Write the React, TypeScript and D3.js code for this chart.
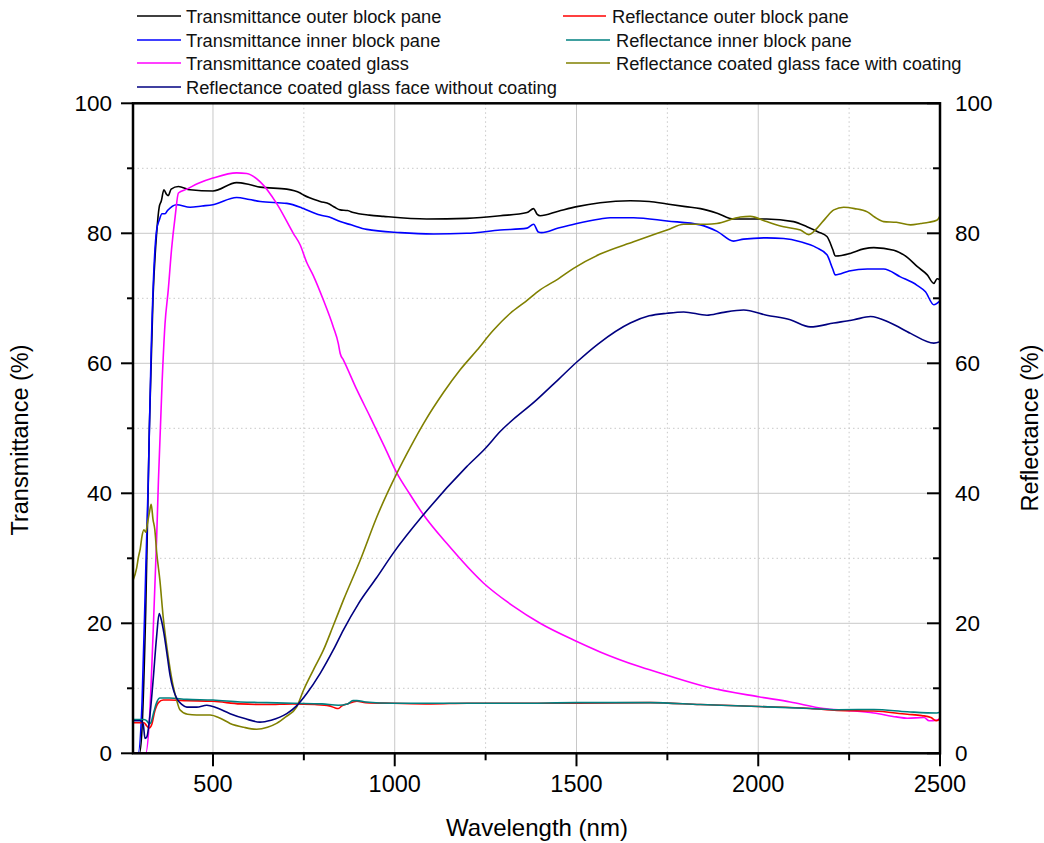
import React from "react";
import * as d3 from "d3";

type Pt = [number, number];

// wavelength (nm), value (%)
const T_OUTER: Pt[] = [
  [280, 0], [298, 0], [305, 4], [315, 22], [325, 50], [335, 70], [345, 80], [352, 84], [358, 85],
  [365, 86.7], [372, 86], [377, 85.8], [385, 86.8], [405, 87.2], [437, 86.7], [500, 86.5], [565, 87.8],
  [600, 87.5], [630, 87.1], [703, 86.8], [740, 86.2], [749, 85.9], [795, 84.9], [820, 84.5], [835, 84],
  [850, 83.6], [870, 83.5], [886, 83.2], [930, 82.8], [969, 82.6], [1088, 82.2], [1198, 82.3], [1290, 82.7],
  [1364, 83.2], [1382, 83.8], [1392, 82.9], [1400, 82.7], [1450, 83.4], [1501, 84.1], [1565, 84.7],
  [1648, 85.0], [1700, 84.9], [1749, 84.5], [1800, 84.1], [1841, 83.8], [1887, 83.1], [1932, 82.2],
  [2023, 82.2], [2097, 81.8], [2134, 81.0], [2165, 80.2], [2189, 79.5], [2205, 77.5], [2212, 76.5],
  [2253, 76.9], [2290, 77.6], [2318, 77.8], [2373, 77.4], [2410, 76.3], [2437, 74.9], [2465, 73.6],
  [2483, 72.3], [2492, 73], [2500, 72.8],
];

const T_INNER: Pt[] = [
  [280, 0], [294, 0], [305, 8], [315, 28], [322, 42], [330, 62], [338, 75], [345, 80.5], [352, 82],
  [360, 83], [368, 83], [375, 83.5], [400, 84.4], [437, 84], [470, 84.2], [500, 84.4], [565, 85.5],
  [600, 85.2], [630, 84.9], [703, 84.6], [740, 84], [749, 83.8], [795, 82.8], [820, 82.5], [850, 81.8],
  [880, 81.3], [923, 80.6], [1015, 80.1], [1107, 79.9], [1198, 80], [1290, 80.5], [1364, 80.8],
  [1382, 81.4], [1395, 80.2], [1404, 80.1], [1450, 80.8], [1501, 81.5], [1565, 82.2], [1593, 82.4],
  [1657, 82.4], [1749, 81.9], [1841, 81.3], [1887, 80.3], [1932, 78.8], [1960, 79.1], [2023, 79.3],
  [2070, 79.2], [2116, 78.7], [2160, 77.8], [2189, 76.7], [2205, 74.5], [2212, 73.6], [2250, 74.2],
  [2300, 74.5], [2345, 74.5], [2391, 73.3], [2437, 72], [2460, 71], [2483, 69], [2500, 69.6],
];

const T_COATED: Pt[] = [
  [280, 0], [315, 0], [325, 5], [335, 18], [345, 33], [350, 42], [360, 57], [368, 66], [377, 71.3],
  [386, 77.5], [396, 82.6], [405, 86.2], [428, 86.8], [460, 87.7], [500, 88.5], [565, 89.3], [593, 89.2],
  [630, 87.9], [675, 84.6], [721, 80], [740, 78.2], [758, 75.5], [776, 73.5], [804, 69.7], [831, 65.6],
  [845, 63], [850, 61.5], [859, 60.5], [896, 55.9], [932, 51.8], [974, 46.9], [1006, 43.1], [1040, 40],
  [1079, 36.7], [1143, 32.3], [1244, 26.2], [1327, 22.6], [1400, 20], [1501, 17.2], [1565, 15.6],
  [1675, 13.3], [1749, 12], [1859, 10.2], [2001, 8.7], [2088, 7.9], [2180, 6.9], [2244, 6.6],
  [2318, 6.2], [2380, 5.6], [2410, 5.4], [2456, 5.5], [2470, 5.0], [2491, 5.1], [2500, 5.3],
];

const R_OUTER: Pt[] = [
  [280, 4.7], [310, 4.7], [318, 4.2], [325, 3.9], [332, 4.5], [340, 6.5], [350, 7.8], [363, 8.2],
  [380, 8.2], [428, 8.1], [500, 8], [575, 7.6], [648, 7.5], [719, 7.6], [780, 7.5], [820, 7.3],
  [835, 7.0], [845, 6.9], [855, 7.3], [870, 7.6], [896, 8], [920, 7.8], [996, 7.7], [1100, 7.6],
  [1200, 7.7], [1336, 7.7], [1500, 7.7], [1703, 7.8], [1840, 7.5], [2001, 7.2], [2143, 6.9],
  [2217, 6.6], [2318, 6.5], [2410, 6.0], [2450, 5.8], [2475, 5.5], [2491, 5.0], [2500, 5.4],
];

const R_INNER: Pt[] = [
  [280, 5.2], [310, 5.2], [318, 5], [325, 4.5], [330, 4.8], [338, 6.5], [345, 7.8], [354, 8.5],
  [380, 8.5], [428, 8.3], [500, 8.2], [575, 7.9], [648, 7.8], [719, 7.7], [800, 7.6], [845, 7.4],
  [870, 7.6], [885, 8.1], [896, 8.1], [920, 7.9], [996, 7.7], [1100, 7.7], [1200, 7.7], [1336, 7.7],
  [1500, 7.8], [1703, 7.8], [1841, 7.5], [2001, 7.2], [2143, 6.9], [2217, 6.7], [2318, 6.75],
  [2410, 6.4], [2491, 6.2], [2500, 6.3],
];

const R_WITH: Pt[] = [
  [280, 26.6], [290, 28.5], [295, 30.2], [300, 31.5], [305, 33.5], [310, 34.4], [315, 34],
  [320, 35.5], [325, 37], [330, 38.3], [335, 36], [340, 34.4], [345, 31], [354, 26.6], [363, 21],
  [373, 16.4], [382, 13], [391, 10.2], [400, 8.2], [409, 6.7], [430, 6], [455, 5.9], [492, 5.9],
  [520, 5.4], [547, 4.6], [585, 4], [620, 3.7], [650, 4], [675, 4.6], [700, 5.6], [730, 7.1],
  [749, 9.7], [776, 12.8], [804, 15.9], [830, 19.5], [859, 23.6], [905, 29.7], [951, 36.4],
  [1006, 43.1], [1045, 47.3], [1080, 50.8], [1134, 55.5], [1180, 59], [1226, 62], [1270, 65],
  [1318, 67.7], [1360, 69.5], [1400, 71.3], [1450, 73], [1492, 74.6], [1565, 76.8], [1657, 78.7],
  [1749, 80.5], [1795, 81.4], [1859, 81.4], [1886, 81.5], [1951, 82.5], [1978, 82.6], [2023, 81.8],
  [2070, 81], [2116, 80.5], [2139, 79.8], [2162, 80.8], [2185, 82.3], [2208, 83.6], [2235, 84],
  [2265, 83.8], [2300, 83.3], [2320, 82.5], [2345, 81.8], [2380, 81.7], [2419, 81.3], [2447, 81.5],
  [2470, 81.7], [2491, 82], [2500, 82.7],
];

const R_WITHOUT: Pt[] = [
  [280, 5], [300, 5], [308, 4.5], [313, 2.3], [318, 2.5], [325, 5], [335, 11], [345, 18], [352, 21.5],
  [358, 20.5], [365, 18.5], [373, 15.5], [382, 12], [391, 9.8], [400, 8.5], [415, 7.5], [428, 7.1],
  [455, 7.1], [483, 7.4], [510, 7], [547, 6.1], [590, 5.3], [629, 4.8], [660, 5.1], [703, 6.1],
  [730, 7.3], [758, 9.2], [795, 12.3], [831, 15.9], [859, 19], [900, 23], [950, 27], [996, 30.8],
  [1079, 36.7], [1198, 44.1], [1249, 46.9], [1290, 49.5], [1391, 54.4], [1450, 57.5], [1501, 60.2],
  [1560, 63], [1648, 66.2], [1700, 67.3], [1749, 67.7], [1795, 67.9], [1859, 67.4], [1900, 67.8],
  [1960, 68.2], [2023, 67.4], [2088, 66.7], [2143, 65.6], [2208, 66.2], [2263, 66.7], [2309, 67.2],
  [2364, 66.2], [2419, 64.6], [2483, 63.1], [2500, 63.3],
];

const X_TICKS = [500, 1000, 1500, 2000, 2500];
const X_MINOR = [750, 1250, 1750, 2250];
const Y_TICKS = [0, 20, 40, 60, 80, 100];
const Y_MINOR = [10, 30, 50, 70, 90];

const SERIES = [
  { name: "Transmittance outer block pane", data: T_OUTER, color: "#000000" },
  { name: "Transmittance inner block pane", data: T_INNER, color: "#0000ff" },
  { name: "Transmittance coated glass", data: T_COATED, color: "#ff00ff" },
  { name: "Reflectance outer block pane", data: R_OUTER, color: "#ff0000" },
  { name: "Reflectance inner block pane", data: R_INNER, color: "#008080" },
  { name: "Reflectance coated glass face with coating", data: R_WITH, color: "#808000" },
  { name: "Reflectance coated glass face without coating", data: R_WITHOUT, color: "#000080" },
];

// legend placement: [seriesIndex, lineX1, lineX2, textX, rowY]
const LEGEND: [number, number, number, number, number][] = [
  [0, 137, 181, 186, 16],
  [1, 137, 181, 186, 40],
  [2, 137, 181, 186, 63],
  [6, 137, 181, 186, 87],
  [3, 563, 606, 612, 16],
  [4, 566, 610, 616, 40],
  [5, 566, 610, 616, 63],
];

const FONT = "'Liberation Sans', Arial, Helvetica, sans-serif";

export default function App() {
  const left = 133;
  const right = 940;
  const top = 103.3;
  const bottom = 753.3;

  const x = d3.scaleLinear().domain([280, 2500]).range([left, right]);
  const y = d3.scaleLinear().domain([0, 100]).range([bottom, top]);
  const yR = d3.scaleLinear().domain([0, 100]).range([bottom, top]);

  const line = (sc: d3.ScaleLinear<number, number>) =>
    d3
      .line<Pt>()
      .x((d) => x(d[0]))
      .y((d) => sc(d[1]))
      .curve(d3.curveMonotoneX);

  return (
    <svg
      width={1044}
      height={843}
      style={{ position: "absolute", left: 0, top: 0, background: "#fff" }}
      fontFamily={FONT}
    >
      {/* grid */}
      {X_TICKS.filter((t) => t < 2500).map((t) => (
        <line key={"gx" + t} x1={x(t)} x2={x(t)} y1={top} y2={bottom} stroke="#c8c8c8" strokeWidth={1} />
      ))}
      {X_MINOR.map((t) => (
        <line key={"gxm" + t} x1={x(t)} x2={x(t)} y1={top} y2={bottom} stroke="#c8c8c8" strokeWidth={1} strokeDasharray="1.5,3" />
      ))}
      {Y_TICKS.filter((t) => t > 0 && t < 100).map((t) => (
        <line key={"gy" + t} x1={left} x2={right} y1={y(t)} y2={y(t)} stroke="#c8c8c8" strokeWidth={1} />
      ))}
      {Y_MINOR.map((t) => (
        <line key={"gym" + t} x1={left} x2={right} y1={y(t)} y2={y(t)} stroke="#c8c8c8" strokeWidth={1} strokeDasharray="1.5,3" />
      ))}

      {/* curves */}
      <g fill="none" strokeWidth={1.6} strokeLinejoin="round">
        {SERIES.map((s, i) => (
          <path key={s.name} d={line(i < 3 ? y : yR)(s.data) || ""} stroke={s.color} />
        ))}
      </g>

      {/* frame */}
      <rect x={left} y={top} width={right - left} height={bottom - top} fill="none" stroke="#000" strokeWidth={2.5} />

      {/* bottom axis */}
      {X_TICKS.map((t) => (
        <g key={"xt" + t}>
          <line x1={x(t)} x2={x(t)} y1={bottom} y2={bottom + 13} stroke="#000" strokeWidth={2} />
          <text x={x(t)} y={792} textAnchor="middle" fontSize={23.5}>
            {t}
          </text>
        </g>
      ))}
      {X_MINOR.map((t) => (
        <line key={"xm" + t} x1={x(t)} x2={x(t)} y1={bottom} y2={bottom + 7} stroke="#000" strokeWidth={2} />
      ))}

      {/* left axis */}
      {Y_TICKS.map((t) => (
        <g key={"yt" + t}>
          <line x1={left - 12} x2={left} y1={y(t)} y2={y(t)} stroke="#000" strokeWidth={2} />
          <text x={112} y={y(t) + 8} textAnchor="end" fontSize={22.5}>
            {t}
          </text>
        </g>
      ))}
      {Y_MINOR.map((t) => (
        <line key={"ym" + t} x1={left - 6} x2={left} y1={y(t)} y2={y(t)} stroke="#000" strokeWidth={2} />
      ))}

      {/* right axis */}
      {Y_TICKS.map((t) => (
        <g key={"yr" + t}>
          <line x1={right - 13} x2={right} y1={yR(t)} y2={yR(t)} stroke="#000" strokeWidth={2} />
          <text x={955} y={yR(t) + 8} textAnchor="start" fontSize={22.5}>
            {t}
          </text>
        </g>
      ))}
      {Y_MINOR.map((t) => (
        <line key={"yrm" + t} x1={right - 7} x2={right} y1={yR(t)} y2={yR(t)} stroke="#000" strokeWidth={2} />
      ))}

      {/* axis titles */}
      <text x={537} y={836} textAnchor="middle" fontSize={24}>
        Wavelength (nm)
      </text>
      <text transform={`translate(28, 440) rotate(-90)`} textAnchor="middle" fontSize={23.5}>
        Transmittance (%)
      </text>
      <text transform={`translate(1038, 428) rotate(-90)`} textAnchor="middle" fontSize={23.5}>
        Reflectance (%)
      </text>

      {/* legend */}
      {LEGEND.map(([si, x1, x2, tx, ry]) => (
        <g key={"lg" + si}>
          <line x1={x1} x2={x2} y1={ry} y2={ry} stroke={SERIES[si].color} strokeWidth={1.6} />
          <text x={tx} y={ry + 6.5} fontSize={18.3} fill="#111">
            {SERIES[si].name}
          </text>
        </g>
      ))}
    </svg>
  );
}
